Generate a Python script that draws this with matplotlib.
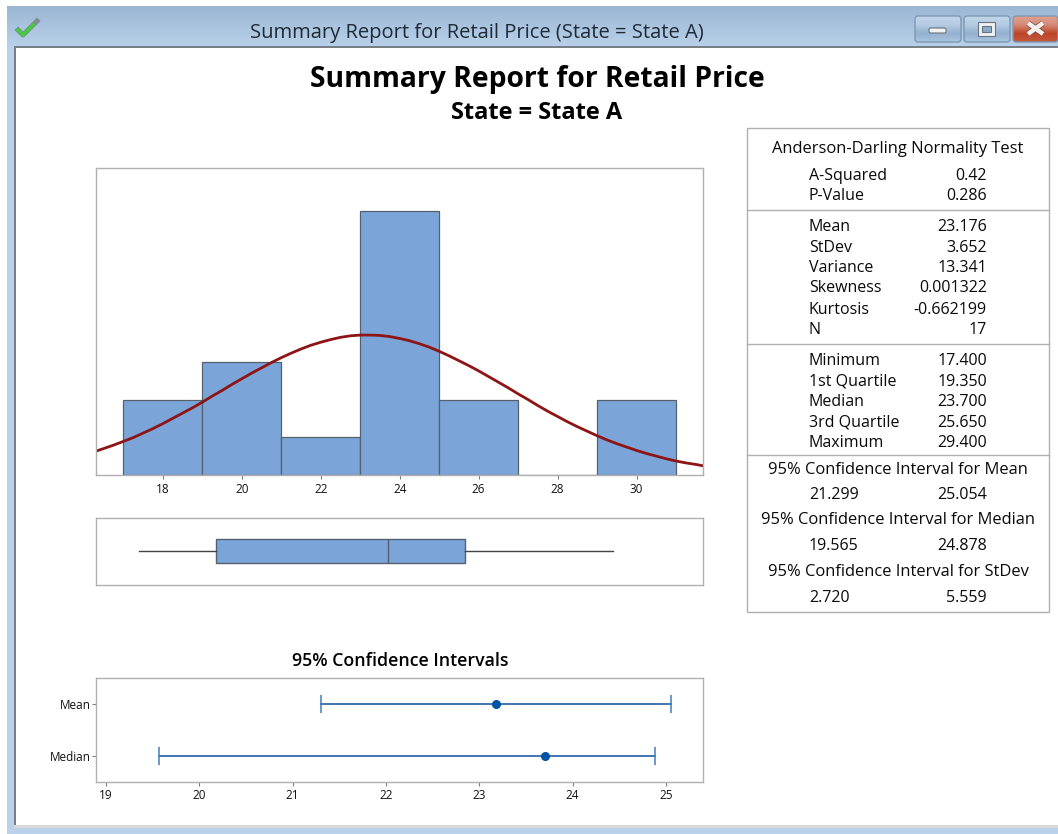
import numpy as np
import matplotlib
matplotlib.use('Agg')
import matplotlib.pyplot as plt
from matplotlib.colors import LinearSegmentedColormap
from matplotlib.patches import Rectangle, FancyBboxPatch

plt.rcParams['font.family'] = ['Open Sans', 'Noto Sans', 'DejaVu Sans']

# Data
bin_edges = [17, 19, 21, 23, 25, 27, 29, 31]
bin_counts = [2, 3, 1, 7, 2, 0, 2]
bin_ticks = [18, 20, 22, 24, 26, 28, 30]

curve_x = [16.33, 16.5, 16.75, 17, 17.25, 17.5, 17.75, 18, 18.25, 18.5, 18.75, 19, 19.25, 19.5, 19.75, 20,
           20.25, 20.5, 20.75, 21, 21.25, 21.5, 21.75, 22, 22.25, 22.5, 22.75, 23, 23.25, 23.5, 23.75, 24,
           24.25, 24.5, 24.75, 25, 25.25, 25.5, 25.75, 26, 26.25, 26.5, 26.75, 27, 27.25, 27.5, 27.75, 28,
           28.25, 28.5, 28.75, 29, 29.25, 29.5, 29.75, 30, 30.25, 30.5, 30.75, 31, 31.25, 31.5, 31.7]
curve_y = [0.64, 0.70, 0.79, 0.89, 0.99, 1.11, 1.23, 1.36, 1.50, 1.64, 1.78, 1.93, 2.09, 2.24, 2.40, 2.55,
           2.70, 2.84, 2.98, 3.11, 3.23, 3.34, 3.44, 3.52, 3.59, 3.65, 3.69, 3.71, 3.71, 3.70, 3.67, 3.62,
           3.56, 3.48, 3.39, 3.28, 3.16, 3.03, 2.90, 2.76, 2.61, 2.46, 2.31, 2.15, 2.00, 1.84, 1.69, 1.55,
           1.41, 1.28, 1.16, 1.04, 0.93, 0.83, 0.74, 0.65, 0.57, 0.50, 0.43, 0.37, 0.32, 0.28, 0.24]

box_min, box_q1, box_med, box_q3, box_max = 17.4, 19.35, 23.7, 25.65, 29.4

ci_labels = ['Mean', 'Median']
ci_centers = [23.176, 23.7]
ci_low = [21.299, 19.565]
ci_high = [25.054, 24.878]
ci_ticks = [19, 20, 21, 22, 23, 24, 25]

stat_labels = ['A-Squared', 'P-Value', 'Mean', 'StDev', 'Variance', 'Skewness', 'Kurtosis', 'N',
               'Minimum', '1st Quartile', 'Median', '3rd Quartile', 'Maximum']
stat_values = ['0.42', '0.286', '23.176', '3.652', '13.341', '0.001322', '-0.662199', '17',
               '17.400', '19.350', '23.700', '25.650', '29.400']
interval_titles = ['95% Confidence Interval for Mean', '95% Confidence Interval for Median',
                   '95% Confidence Interval for StDev']
interval_low = ['21.299', '19.565', '2.720']
interval_high = ['25.054', '24.878', '5.559']

W, H = 1058, 834
BAR = '#7BA5D8'
EDGE = '#55606E'
FRAME = '#B0B0B0'
TEXT = '#0A0A0A'
TXT_DY = 1.5

fig = plt.figure(figsize=(W / 100, H / 100), dpi=100, facecolor='white')

# window chrome, drawn in pixel coordinates
bg = fig.add_axes([0, 0, 1, 1], zorder=0)
grad = np.linspace(0, 1, 64).reshape(-1, 1)
bg.imshow(grad, extent=[7, W, 47, 6], aspect='auto', zorder=1,
          cmap=LinearSegmentedColormap.from_list('bar', ['#9BB6D3', '#B9D1EA']))
bg.add_patch(Rectangle((7, 47), W - 7, H - 47, fc='#B9D1EA', ec='none', zorder=1))
bg.add_patch(Rectangle((16, 48), W - 16, 777, fc='white', ec='none', zorder=2))
bg.add_patch(Rectangle((14, 46), W - 14, 2, fc='#787E86', ec='none', zorder=3))
bg.add_patch(Rectangle((14, 46), 2, 782, fc='#787E86', ec='none', zorder=3))
bg.add_patch(Rectangle((14, 825), W - 14, 3, fc='#D9D9D9', ec='none', zorder=3))

# title bar buttons
blue_btn = LinearSegmentedColormap.from_list('b', ['#C3D6EA', '#B4CBE3', '#94B1CF', '#A9C3DE'])
red_btn = LinearSegmentedColormap.from_list('r', ['#E0A090', '#D58A78', '#BE4528', '#C4573C'])
for bx, bw, cm in [(915, 46, blue_btn), (964, 46, blue_btn), (1013, 45, red_btn)]:
    im = bg.imshow(grad, extent=[bx, bx + bw, 42, 16], aspect='auto', cmap=cm, zorder=3)
    box = FancyBboxPatch((bx, 16), bw, 26, boxstyle='round,pad=0,rounding_size=3', fc='none',
                         ec='#7F97B2', lw=1, zorder=4)
    bg.add_patch(box)
    im.set_clip_path(box)
bg.add_patch(FancyBboxPatch((929, 28), 17, 5, boxstyle='round,pad=0,rounding_size=1.5', fc='#F2F2F2',
                            ec='#6A7480', lw=0.8, zorder=5))
bg.add_patch(Rectangle((978, 22), 17, 14, fc='#EEF1F4', ec='#6A7480', lw=0.8, zorder=5))
bg.add_patch(Rectangle((982, 26), 9, 6, fc='#8FAAC8', ec='#6A7480', lw=0.8, zorder=6))
for xs, ys in [([1028, 1043], [23, 34]), ([1028, 1043], [34, 23])]:
    bg.plot(xs, ys, color='#7A4A40', lw=4.2, solid_capstyle='butt', zorder=5)
for xs, ys in [([1028, 1043], [23, 34]), ([1028, 1043], [34, 23])]:
    bg.plot(xs, ys, color='#F4F1EE', lw=3.2, solid_capstyle='butt', zorder=6)
bg.plot([18, 23, 37], [30, 35, 21], color='#7F8C90', lw=3.6, zorder=5)
bg.plot([18, 23, 33], [30, 35, 25], color='#46C943', lw=2.6, zorder=6)

bg.text(477, 31 + TXT_DY, 'Summary Report for Retail Price (State = State A)', fontsize=14.5, color='#1E2A36',
        ha='center', va='center', zorder=5)
bg.text(537, 78 + TXT_DY, 'Summary Report for Retail Price', fontsize=20.3, fontweight='bold', color='black',
        ha='center', va='center', zorder=5)
bg.text(537, 111 + TXT_DY, 'State = State A', fontsize=17, fontweight='bold', color='black',
        ha='center', va='center', zorder=5)
bg.text(400, 660 + TXT_DY, '95% Confidence Intervals', fontsize=12.8, fontweight='semibold', color='black',
        ha='center', va='center', zorder=5)

# stats panel
bg.add_patch(Rectangle((747, 128), 302, 484, fc='white', ec=FRAME, lw=1, zorder=3))
for y in [210, 344, 455]:
    bg.plot([747, 1049], [y, y], color=FRAME, lw=1, zorder=4)
bg.text(898, 147 + TXT_DY, 'Anderson-Darling Normality Test', fontsize=11.9, color=TEXT,
        ha='center', va='center', zorder=5)
stat_y = [174, 194, 225, 246, 266, 287, 308, 328, 359, 380, 400, 421, 441]
for label, value, y in zip(stat_labels, stat_values, stat_y):
    bg.text(809, y + TXT_DY, label, fontsize=11.5, color=TEXT, ha='left', va='center', zorder=5)
    bg.text(987, y + TXT_DY, value, fontsize=11.5, color=TEXT, ha='right', va='center', zorder=5)
title_y = [468, 519, 570]
value_y = [493, 545, 596]
for i in range(len(interval_titles)):
    bg.text(898, title_y[i] + TXT_DY, interval_titles[i], fontsize=11.9, color=TEXT, ha='center', va='center', zorder=5)
    bg.text(809, value_y[i] + TXT_DY, interval_low[i], fontsize=11.5, color=TEXT, ha='left', va='center', zorder=5)
    bg.text(987, value_y[i] + TXT_DY, interval_high[i], fontsize=11.5, color=TEXT, ha='right', va='center', zorder=5)

bg.set_xlim(0, W)
bg.set_ylim(H, 0)
bg.axis('off')


def panel(left, top, right, bottom):
    ax = fig.add_axes([left / W, 1 - bottom / H, (right - left) / W, (bottom - top) / H], zorder=2)
    for s in ax.spines.values():
        s.set_color(FRAME)
        s.set_linewidth(1)
    return ax


# histogram
ax = panel(96, 168, 703, 475)
ax.bar(bin_edges[:-1], bin_counts, width=2, align='edge', color=BAR, edgecolor=EDGE, linewidth=0.9)
ax.plot(curve_x, curve_y, color='#8E1515', lw=2)
ax.set_xlim(16.31, 31.68)
ax.set_ylim(0, 8.14)
ax.set_yticks([])
ax.set_xticks(bin_ticks)
ax.tick_params(axis='x', labelsize=8.5, length=3, color='#808080', labelcolor='#111111', pad=2.5)

# boxplot
ax2 = panel(96, 518, 703, 585)
ax2.boxplot([[box_min, box_q1, box_med, box_q3, box_max]], vert=False, widths=0.35, whis=(0, 100),
            patch_artist=True, showcaps=False, showfliers=False,
            boxprops=dict(facecolor=BAR, edgecolor=EDGE, linewidth=1),
            medianprops=dict(color=EDGE, linewidth=1),
            whiskerprops=dict(color='#444444', linewidth=1))
ax2.set_xlim(16.31, 31.68)
ax2.set_ylim(0.493, 1.493)
ax2.set_xticks([])
ax2.set_yticks([])

# confidence intervals
ax3 = panel(96, 678, 703, 782)
for i in range(len(ci_labels)):
    ax3.plot([ci_low[i], ci_high[i]], [i, i], color='#1F5FA8', lw=1.2)
    ax3.plot([ci_low[i], ci_high[i]], [i, i], ls='none', marker='|', ms=13, mew=1.1, color='#3F7FBF')
    ax3.plot(ci_centers[i], i, ls='none', marker='o', ms=5.5, color='#0054A6')
ax3.set_xlim(18.893, 25.397)
ax3.set_ylim(1.5, -0.5)
ax3.set_yticks(range(len(ci_labels)))
ax3.set_yticklabels(ci_labels)
ax3.set_xticks(ci_ticks)
ax3.tick_params(axis='both', labelsize=8.5, length=3, color='#808080', labelcolor='#111111', pad=2)
ax3.tick_params(axis='y', pad=1)

fig.savefig('out.png', dpi=100)
